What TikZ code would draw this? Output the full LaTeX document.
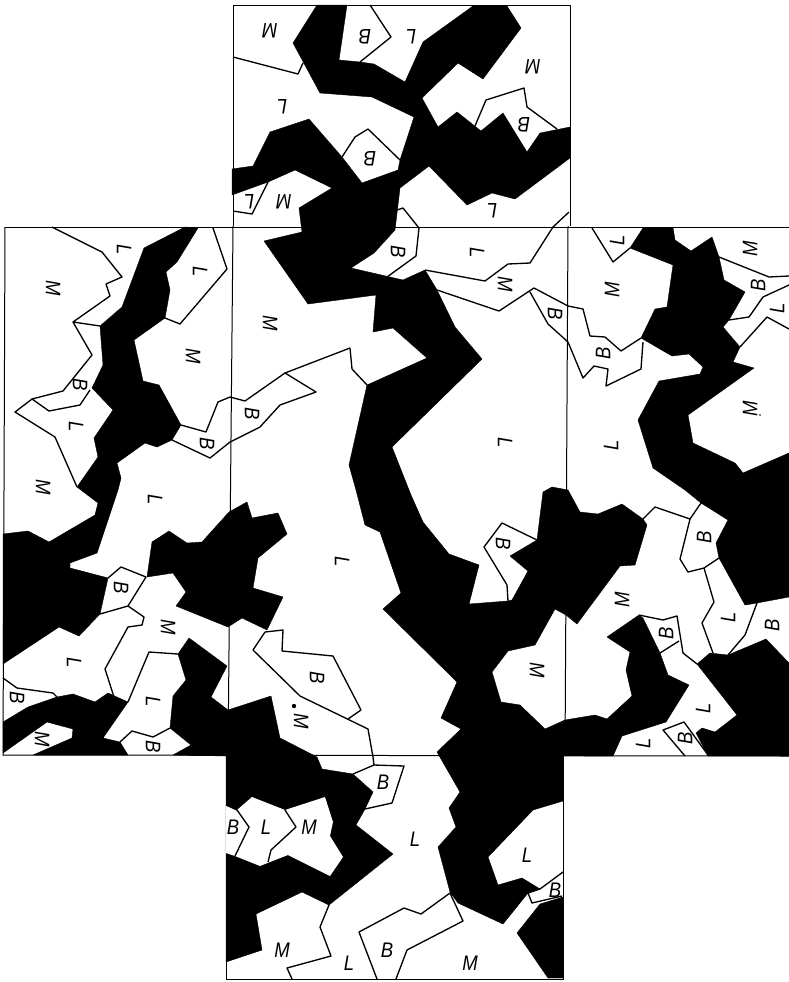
\documentclass[tikz,border=0pt]{standalone}
\usepackage{fontspec}
\setmainfont[FakeStretch=0.88]{Liberation Sans}
\tikzset{
 blk/.style={fill=black,draw=black,line width=0.3pt,line join=round},
 bnd/.style={draw=black,line width=1pt,line join=round},
 frm/.style={draw=black,line width=0.75pt},
 lab/.style={inner sep=0pt,font=\fontsize{15.8}{16}\selectfont\itshape},
 tp/.style={lab,rotate=180},
 lf/.style={lab,rotate=-90},
 rt/.style={lab,rotate=90},
 bt/.style={lab}
}
\begin{document}
\begin{tikzpicture}[x=0.75pt,y=-0.75pt]
\useasboundingbox (0,0) rectangle (789,982);
\fill[white] (0,0) rectangle (789,982);
% frames
\draw[frm] (233,226) -- (233,5) -- (570,5) -- (570,226);
\draw[frm] (5,227) -- (789,227);
\draw[frm] (5,227) -- (3,755) -- (789,756);
\draw[frm] (233,226) -- (228,756);
\draw[frm] (568,226) -- (565,756);
\draw[frm] (226,756) -- (226,979) -- (563,979) -- (563,756);
% central band
\path[blk] (400,188) -- (395,230) -- (374,253) -- (351,268) -- (403,280) -- (425,270) -- (437,290) -- (455,327) -- (482,359) -- (392,447) -- (411,495) -- (423,522) -- (449,554) -- (479,565) -- (469,604) -- (508,601) -- (512,600) -- (528,571) -- (510,556) -- (537,540) -- (543,492) -- (552,487) -- (568,490) -- (580,512) -- (598,514) -- (622,504) -- (643,519) -- (647,525) -- (635,565) -- (620,566) -- (577,624) -- (566,615) -- (555,609) -- (535,645) -- (508,651) -- (492,672) -- (501,702) -- (520,705) -- (545,729) -- (565,720) -- (595,715) -- (607,719) -- (632,696) -- (626,670) -- (630,652) -- (607,637) -- (639,615) -- (643,618) -- (660,653) -- (668,675) -- (689,685) -- (666,722) -- (622,736) -- (613,756) -- (563,756) -- (563,801) -- (533,810) -- (488,857) -- (498,885) -- (522,878) -- (540,889) -- (528,893) -- (503,924) -- (458,903) -- (450,892) -- (438,847) -- (456,827) -- (449,808) -- (460,792) -- (437,752) -- (461,729) -- (441,718) -- (457,682) -- (383,609) -- (401,593) -- (380,532) -- (365,525) -- (356,490) -- (349,465) -- (367,385) -- (427,358) -- (393,328) -- (373,332) -- (376,295) -- (308,304) -- (264,241) -- (302,232) -- (299,208) -- (332,188) -- (295,170) -- (268,182) -- (232,195) -- (232,169) -- (253,166) -- (270,132) -- (309,119) -- (342,157) -- (362,183) -- (398,170) -- (400,160) -- (414,117) -- (372,97) -- (320,93) -- (293,43) -- (317,5) -- (347,5) -- (339,60) -- (360,62) -- (374,64) -- (405,82) -- (423,42) -- (473,6) -- (507,6) -- (521,28) -- (483,79) -- (458,63) -- (422,98) -- (438,127) -- (457,112) -- (481,131) -- (503,113) -- (527,152) -- (540,133) -- (570,127) -- (570,158) -- (515,199) -- (492,193) -- (467,205) -- (429,166) -- cycle;
% right panel
\path[blk] (643,228) -- (673,228) -- (675,240) -- (691,251) -- (712,237) -- (719,257) -- (724,280) -- (745,292) -- (729,320) -- (723,327) -- (740,347) -- (733,362) -- (754,368) -- (688,415) -- (693,443) -- (735,463) -- (743,473) -- (789,453) -- (789,597) -- (757,603) -- (745,605) -- (719,558) -- (716,543) -- (728,520) -- (701,503) -- (685,490) -- (653,468) -- (638,420) -- (659,381) -- (700,374) -- (703,367) -- (689,354) -- (672,356) -- (641,338) -- (655,309) -- (667,307) -- (673,265) -- (630,248) -- cycle;
\path[blk] (697,664) -- (710,653) -- (728,655) -- (766,639) -- (789,663) -- (789,756) -- (708,756) -- (696,733) -- (702,728) -- (715,732) -- (737,715) -- cycle;
% bottom right
\path[blk] (517,933) -- (540,904) -- (563,897) -- (563,978) -- (548,978) -- cycle;
% left panel
\path[blk] (185,227) -- (198,228) -- (177,262) -- (166,272) -- (170,290) -- (165,318) -- (134,340) -- (143,381) -- (159,385) -- (181,425) -- (172,440) -- (157,447) -- (145,443) -- (117,463) -- (121,478) -- (118,490) -- (97,553) -- (70,563) -- (70,568) -- (108,578) -- (100,614) -- (79,636) -- (59,627) -- (3,664) -- (3,534) -- (28,531) -- (49,542) -- (95,515) -- (98,503) -- (77,487) -- (98,457) -- (94,438) -- (113,410) -- (92,388) -- (103,365) -- (100,326) -- (122,307) -- (144,248) -- cycle;
\path[blk] (202,542) -- (229,512) -- (247,502) -- (252,518) -- (278,513) -- (287,534) -- (258,558) -- (253,588) -- (283,597) -- (267,630) -- (242,618) -- (228,627) -- (176,606) -- (186,592) -- (173,573) -- (147,577) -- (152,542) -- (169,531) -- (187,543) -- cycle;
\path[blk] (3,722) -- (28,707) -- (57,697) -- (73,694) -- (95,702) -- (108,693) -- (128,702) -- (103,738) -- (120,742) -- (128,755) -- (33,755) -- (72,738) -- (73,729) -- (47,722) -- (3,753) -- cycle;
% lower left, runs into the bottom panel
\path[blk] (178,654) -- (189,638) -- (227,666) -- (211,697) -- (228,710) -- (271,696) -- (280,738) -- (317,757) -- (322,769) -- (353,774) -- (373,792) -- (365,809) -- (356,825) -- (393,854) -- (329,905) -- (302,892) -- (256,914) -- (262,950) -- (226,962) -- (226,756) -- (173,755) -- (191,745) -- (170,728) -- (173,696) -- (186,680) -- cycle;
% bottom island
\path[fill=white] (226,805) -- (237,810) -- (252,797) -- (285,810) -- (325,797) -- (333,822) -- (330,836) -- (343,857) -- (330,876) -- (288,855) -- (270,862) -- (260,866) -- (235,856) -- (226,853) -- cycle;
% boundaries: top panel
\draw[bnd] (233,57) -- (298,74) -- (303,63);
\draw[bnd] (370,5) -- (391,37) -- (360,62);
\draw[bnd] (475,126) -- (486,100) -- (524,88) -- (527,107) -- (557,129);
\draw[bnd] (342,157) -- (355,137) -- (368,129) -- (400,160);
\draw[bnd] (268,182) -- (252,214) -- (233,211);
\draw[bnd] (397,210) -- (403,208) -- (419,228) -- (416,256) -- (387,277);
\draw[bnd] (569,212) -- (553,227) -- (530,263) -- (508,264) -- (485,281) -- (425,270);
% centre
\draw[bnd] (437,290) -- (499,311) -- (534,288) -- (568,306) -- (583,309) -- (590,336) -- (605,337) -- (621,351) -- (641,338);
\draw[bnd] (530,292) -- (548,324) -- (568,342) -- (583,378) -- (594,366) -- (608,369) -- (606,386) -- (641,369) -- (643,342);
\draw[bnd] (350,348) -- (352,369) -- (367,385);
\draw[bnd] (350,348) -- (285,373) -- (316,392) -- (280,405) -- (260,427) -- (230,442) -- (210,458) -- (172,440);
\draw[bnd] (181,425) -- (206,432) -- (218,402) -- (230,397) -- (245,401) -- (285,373);
\draw[bnd] (265,632) -- (283,630) -- (282,651) -- (333,656) -- (361,710) -- (348,719);
\draw[bnd] (265,632) -- (253,650) -- (300,696) -- (368,729) -- (373,757) -- (374,765) -- (404,766) -- (392,803) -- (365,809);
\draw[bnd] (374,765) -- (353,774);
\draw[bnd] (508,601) -- (507,585) -- (484,547) -- (502,523) -- (537,540);
% left
\draw[bnd] (52,227) -- (102,252) -- (122,277) -- (106,284) -- (110,296) -- (73,322) -- (100,326);
\draw[bnd] (73,322) -- (92,355) -- (63,391) -- (32,399) -- (49,411) -- (80,405) -- (90,390);
\draw[bnd] (32,399) -- (15,412) -- (55,437) -- (77,487);
\draw[bnd] (213,228) -- (227,269) -- (180,324) -- (165,318);
\draw[bnd] (100,614) -- (128,606) -- (146,577) -- (121,567) -- (108,578);
\draw[bnd] (128,606) -- (144,617) -- (142,625) -- (128,627) -- (105,669) -- (114,697);
\draw[bnd] (128,702) -- (149,652) -- (178,654);
\draw[bnd] (120,742) -- (132,731) -- (153,737) -- (170,728);
\draw[bnd] (3,678) -- (17,688) -- (53,693) -- (57,697);
% right
\draw[bnd] (592,228) -- (613,262) -- (630,248);
\draw[bnd] (719,257) -- (769,277) -- (789,276);
\draw[bnd] (789,285) -- (763,297) -- (749,317) -- (729,320);
\draw[bnd] (740,347) -- (767,317) -- (789,329);
\draw[bnd] (643,519) -- (655,507) -- (690,519) -- (701,503);
\draw[bnd] (690,519) -- (680,559) -- (688,572) -- (704,568) -- (719,558);
\draw[bnd] (704,568) -- (714,602) -- (702,623) -- (713,653);
\draw[bnd] (757,603) -- (745,635) -- (728,655);
\draw[bnd] (639,615) -- (663,620) -- (677,616) -- (683,653) -- (697,664);
\draw[bnd] (679,641) -- (660,653);
\draw[bnd] (708,755) -- (684,722) -- (663,730) -- (685,756);
% bottom
\draw[bnd] (226,805) -- (237,810) -- (249,827) -- (235,856);
\draw[bnd] (285,810) -- (296,827) -- (271,850) -- (268,862);
\draw[bnd] (329,905) -- (320,927) -- (331,956) -- (287,968) -- (292,979);
\draw[bnd] (450,893) -- (463,921) -- (407,950) -- (396,979);
\draw[bnd] (450,893) -- (421,914) -- (404,908) -- (359,932) -- (377,979);
\draw[bnd] (540,889) -- (528,893) -- (532,903) -- (562,896);
\draw[bnd] (540,889) -- (563,872);
% labels: top panel
\node[tp] (t1) at (270,31) {M};
\node[tp] (t2) at (365,37) {B};
\node[tp] (t3) at (411,37) {L};
\node[tp] (t4) at (533,67) {M};
\node[tp] (t5) at (282,107) {L};
\node[tp] (t6) at (524,125) {B};
\node[tp] (t7) at (370,159) {B};
\node[tp] (t8) at (249,202) {L};
\node[tp] (t9) at (284,202) {M};
\node[tp] (t10) at (492,211) {L};
% left panel
\node[lf] (l1) at (53,288) {M};
\node[lf] (l2) at (124,250) {L};
\node[lf] (l3) at (200,272) {L};
\node[lf] (l4) at (193,356) {M};
\node[lf] (l5) at (80,385) {B};
\node[lf] (l6) at (76,427) {L};
\node[lf] (l7) at (207,444) {B};
\node[lf] (l8) at (43,487) {M};
\node[lf] (l9) at (155,500) {L};
\node[lf] (l10) at (74,663) {L};
\node[lf] (l11) at (168,627) {M};
\node[lf] (l12) at (121,588) {B};
\node[lf] (l13) at (17,698) {B};
\node[lf] (l14) at (153,702) {L};
\node[lf] (l15) at (42,739) {M};
\node[lf] (l16) at (153,747) {B};
% centre panel
\node[lf] (c1) at (270,323) {M};
\node[lf] (c2) at (252,414) {B};
\node[lf] (c3) at (398,252) {B};
\node[lf] (c4) at (477,253) {L};
\node[lf] (c5) at (505,284) {M};
\node[lf] (c6) at (555,314) {B};
\node[lf] (c7) at (505,443) {L};
\node[lf] (c8) at (342,562) {L};
\node[lf] (c9) at (503,544) {B};
\node[lf] (c10) at (317,678) {B};
\node[lf] (c11) at (301,721) {M};
\fill (294,706) circle[radius=2.2] coordinate (d1);
\node[lf] (c12) at (537,670) {M};
% right panel
\node[rt] (r1) at (617,240) {L};
\node[rt] (r2) at (612,290) {M};
\node[rt] (r3) at (750,249) {M};
\node[rt] (r4) at (758,285) {B};
\node[rt] (r5) at (777,308) {L};
\node[rt] (r6) at (603,353) {B};
\node[rt] (r7) at (750,409) {M};
\fill (760,415) circle[radius=0.8] coordinate (d2);
\node[rt] (r8) at (611,445) {L};
\node[rt] (r9) at (704,537) {B};
\node[rt] (r10) at (622,600) {M};
\node[rt] (r11) at (728,617) {L};
\node[rt] (r12) at (772,625) {B};
\node[rt] (r13) at (666,633) {B};
\node[rt] (r14) at (703,708) {L};
\node[rt] (r15) at (643,743) {L};
\node[rt] (r16) at (685,738) {B};
% bottom panel
\node[bt] (b1) at (383,782) {B};
\node[bt] (b2) at (233,827) {B};
\node[bt] (b3) at (266,827) {L};
\node[bt] (b4) at (309,827) {M};
\node[bt] (b5) at (415,839) {L};
\node[bt] (b6) at (527,855) {L};
\node[bt] (b7) at (555,890) {B};
\node[bt] (b8) at (282,950) {M};
\node[bt] (b9) at (349,963) {L};
\node[bt] (b10) at (387,950) {B};
\node[bt] (b11) at (470,963) {M};
\end{tikzpicture}
\end{document}
